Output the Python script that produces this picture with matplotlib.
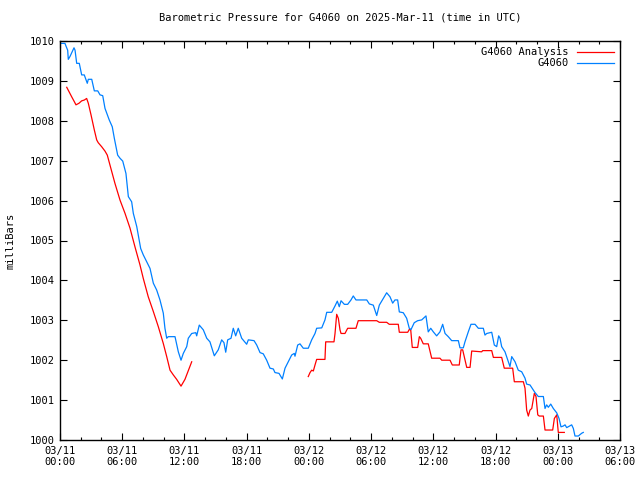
import matplotlib
matplotlib.use("Agg")
import matplotlib.pyplot as plt
from matplotlib.ticker import MultipleLocator

# hours since 2025-03-11 00:00 UTC
obs_hours = [0.10, 0.48, 0.58, 0.74, 0.80, 0.96, 1.35, 1.45, 1.61, 1.86, 2.09, 2.34, 2.63, 2.73, 3.06,
             3.31, 3.64, 3.86, 4.12, 4.34, 4.75, 5.04, 5.24, 5.56, 5.79, 6.05, 6.17, 6.36, 6.59, 6.91,
             7.07, 7.40, 7.78, 8.03, 8.36, 8.68, 9.00, 9.32, 9.64, 9.96, 10.12, 10.29, 10.44, 11.09,
             11.41, 11.67, 11.89, 12.22, 12.37, 12.70, 13.09, 13.18, 13.43, 13.82, 14.15, 14.46, 14.88,
             15.26, 15.59, 15.81, 15.98, 16.17, 16.49, 16.71, 16.94, 17.19, 17.52, 18.00, 18.16, 18.71,
             18.97, 19.29, 19.60, 19.93, 20.25, 20.57, 20.73, 21.12, 21.44, 21.70, 22.01, 22.34, 22.59,
             22.66, 22.92, 23.14, 23.46, 23.94, 24.27, 24.59, 24.75, 25.24, 25.55, 25.72, 26.20, 26.52,
             26.74, 26.93, 27.10, 27.42, 27.74, 28.06, 28.28, 28.54, 29.58, 29.83, 30.21, 30.54, 30.79,
             31.18, 31.50, 31.82, 32.08, 32.30, 32.56, 32.72, 33.10, 33.43, 33.68, 33.85, 34.16, 34.49,
             34.88, 35.13, 35.29, 35.51, 35.75, 36.00, 36.32, 36.64, 36.90, 37.13, 37.44, 37.77, 38.41,
             38.57, 38.89, 39.05, 39.37, 39.63, 40.02, 40.34, 40.82, 40.98, 41.15, 41.63, 41.88, 42.11,
             42.30, 42.43, 42.59, 42.91, 43.23, 43.39, 43.56, 43.88, 44.19, 44.52, 44.84, 45.00, 45.32,
             45.80, 46.12, 46.61, 46.77, 46.93, 47.09, 47.32, 47.57, 47.90, 48.12, 48.31, 48.53, 48.70,
             48.86, 49.34, 49.50, 49.66, 49.98, 50.31, 50.46]
obs_mb = [1009.94, 1009.94, 1009.87, 1009.77, 1009.54, 1009.61, 1009.83, 1009.77, 1009.44, 1009.44,
          1009.15, 1009.15, 1008.94, 1009.04, 1009.04, 1008.75, 1008.75, 1008.65, 1008.63, 1008.31,
          1008.02, 1007.85, 1007.56, 1007.14, 1007.06, 1006.99, 1006.87, 1006.68, 1006.10, 1005.97,
          1005.68, 1005.35, 1004.80, 1004.64, 1004.47, 1004.30, 1003.93, 1003.76, 1003.51, 1003.18,
          1002.80, 1002.55, 1002.59, 1002.59, 1002.21, 1002.00, 1002.17, 1002.34, 1002.55, 1002.67,
          1002.69, 1002.61, 1002.88, 1002.76, 1002.55, 1002.46, 1002.11, 1002.26, 1002.51, 1002.44,
          1002.20, 1002.51, 1002.55, 1002.80, 1002.61, 1002.80, 1002.55, 1002.40, 1002.51, 1002.49,
          1002.38, 1002.19, 1002.16, 1002.00, 1001.80, 1001.78, 1001.69, 1001.67, 1001.53, 1001.80,
          1001.96, 1002.13, 1002.17, 1002.10, 1002.38, 1002.41, 1002.30, 1002.30, 1002.51, 1002.67,
          1002.80, 1002.81, 1003.01, 1003.20, 1003.20, 1003.36, 1003.48, 1003.34, 1003.49, 1003.40,
          1003.40, 1003.51, 1003.61, 1003.51, 1003.51, 1003.41, 1003.38, 1003.12, 1003.38, 1003.55,
          1003.69, 1003.59, 1003.43, 1003.51, 1003.51, 1003.21, 1003.19, 1003.05, 1002.80, 1002.77,
          1002.94, 1002.99, 1003.01, 1003.07, 1003.11, 1002.71, 1002.80, 1002.71, 1002.61, 1002.71,
          1002.90, 1002.67, 1002.59, 1002.49, 1002.49, 1002.31, 1002.31, 1002.46, 1002.71, 1002.90,
          1002.90, 1002.80, 1002.80, 1002.63, 1002.67, 1002.70, 1002.38, 1002.34, 1002.61, 1002.55,
          1002.34, 1002.21, 1001.96, 1001.84, 1002.09, 1001.96, 1001.75, 1001.71, 1001.55, 1001.40,
          1001.38, 1001.19, 1001.09, 1001.09, 1000.79, 1000.88, 1000.82, 1000.90, 1000.79, 1000.68,
          1000.54, 1000.33, 1000.35, 1000.38, 1000.31, 1000.38, 1000.29, 1000.10, 1000.10, 1000.17,
          1000.19]

ana1_hours = [0.65, 0.87, 1.13, 1.38, 1.54, 1.83, 2.09, 2.34, 2.57, 2.73, 2.99, 3.31, 3.54, 3.69, 4.02,
              4.34, 4.56, 4.82, 5.30, 5.79, 6.27, 6.75, 7.23, 7.71, 8.03, 8.51, 9.00, 9.48, 9.96, 10.29,
              10.61, 10.93, 11.25, 11.67, 12.05, 12.70]
ana1_mb = [1008.84, 1008.73, 1008.60, 1008.48, 1008.40, 1008.44, 1008.50, 1008.52, 1008.56, 1008.44,
           1008.15, 1007.77, 1007.52, 1007.45, 1007.35, 1007.24, 1007.14, 1006.89, 1006.43, 1006.01,
           1005.68, 1005.31, 1004.84, 1004.39, 1004.05, 1003.59, 1003.22, 1002.84, 1002.42, 1002.09,
           1001.75, 1001.63, 1001.52, 1001.35, 1001.52, 1001.96]

ana2_hours = [23.94, 24.11, 24.27, 24.43, 24.59, 24.75, 25.55, 25.62, 26.42, 26.52, 26.68, 26.84, 27.00,
              27.10, 27.48, 27.74, 28.54, 28.76, 30.54, 30.79, 31.50, 31.75, 32.62, 32.72, 33.53, 33.68,
              33.82, 33.97, 34.49, 34.65, 34.78, 35.03, 35.51, 35.84, 36.64, 36.81, 37.61, 37.83, 38.50,
              38.67, 38.83, 39.22, 39.54, 39.70, 40.66, 40.76, 41.63, 41.79, 42.59, 42.84, 43.65, 43.81,
              44.68, 44.84, 45.00, 45.16, 45.32, 45.49, 45.74, 45.90, 46.07, 46.22, 46.61, 46.77, 47.51,
              47.67, 47.90, 48.00, 48.05, 48.63]
ana2_mb = [1001.59, 1001.69, 1001.75, 1001.73, 1001.88, 1002.02, 1002.02, 1002.46, 1002.46, 1002.67,
           1003.15, 1003.05, 1002.76, 1002.67, 1002.67, 1002.80, 1002.80, 1002.99, 1002.99, 1002.95,
           1002.95, 1002.90, 1002.90, 1002.70, 1002.70, 1002.77, 1002.76, 1002.32, 1002.32, 1002.59,
           1002.55, 1002.41, 1002.41, 1002.05, 1002.05, 1002.00, 1002.00, 1001.88, 1001.88, 1002.26,
           1002.26, 1001.82, 1001.82, 1002.23, 1002.21, 1002.24, 1002.24, 1002.07, 1002.07, 1001.80,
           1001.80, 1001.46, 1001.46, 1001.30, 1000.75, 1000.60, 1000.75, 1000.79, 1001.17, 1001.09,
           1000.63, 1000.60, 1000.60, 1000.25, 1000.25, 1000.54, 1000.63, 1000.33, 1000.19, 1000.19]

tick_hours = [0, 6, 12, 18, 24, 30, 36, 42, 48, 54]
tick_labels = ["03/11\n00:00", "03/11\n06:00", "03/11\n12:00", "03/11\n18:00", "03/12\n00:00",
               "03/12\n06:00", "03/12\n12:00", "03/12\n18:00", "03/13\n00:00", "03/13\n06:00"]

FONT = "DejaVu Sans Mono"
FS = 7.5
RED = "#ff0000"
BLUE = "#0080ff"

fig = plt.figure(figsize=(6.4, 4.8), dpi=100)
ax = fig.add_axes([60/640, 1-440/480, 560/640, 399/480])

kw = dict(lw=0.9)
ax.plot(ana1_hours, ana1_mb, color=RED, label="G4060 Analysis", **kw)
ax.plot(ana2_hours, ana2_mb, color=RED, **kw)
ax.plot(obs_hours, obs_mb, color=BLUE, label="G4060", **kw)

ax.set_xlim(0, 54)
ax.set_ylim(1000, 1010)
ax.set_xticks(tick_hours)
ax.set_xticklabels(tick_labels, fontfamily=FONT, fontsize=FS)
ax.xaxis.set_minor_locator(MultipleLocator(2))
ax.yaxis.set_major_locator(MultipleLocator(1))
for lab in ax.get_yticklabels():
    lab.set_fontfamily(FONT)
    lab.set_fontsize(FS)
ax.tick_params(which="both", direction="in", top=True, right=True, width=0.8, colors="black")
ax.tick_params(which="major", length=5, pad=4)
ax.tick_params(which="minor", length=2.5)
for s in ax.spines.values():
    s.set_linewidth(1.0)

ax.set_ylabel("milliBars", fontfamily=FONT, fontsize=FS, labelpad=10)
ax.set_title("Barometric Pressure for G4060 on 2025-Mar-11 (time in UTC)",
             fontfamily=FONT, fontsize=FS, pad=15)

leg = ax.legend(loc="upper right", frameon=False, markerfirst=False,
                prop={"family": FONT, "size": FS}, handlelength=3.5,
                borderaxespad=0.2, labelspacing=0.1, handletextpad=0.8)
for t in leg.get_texts():
    t.set_ha("right")
leg._legend_box.align = "right"

fig.savefig("out.png", dpi=100)
